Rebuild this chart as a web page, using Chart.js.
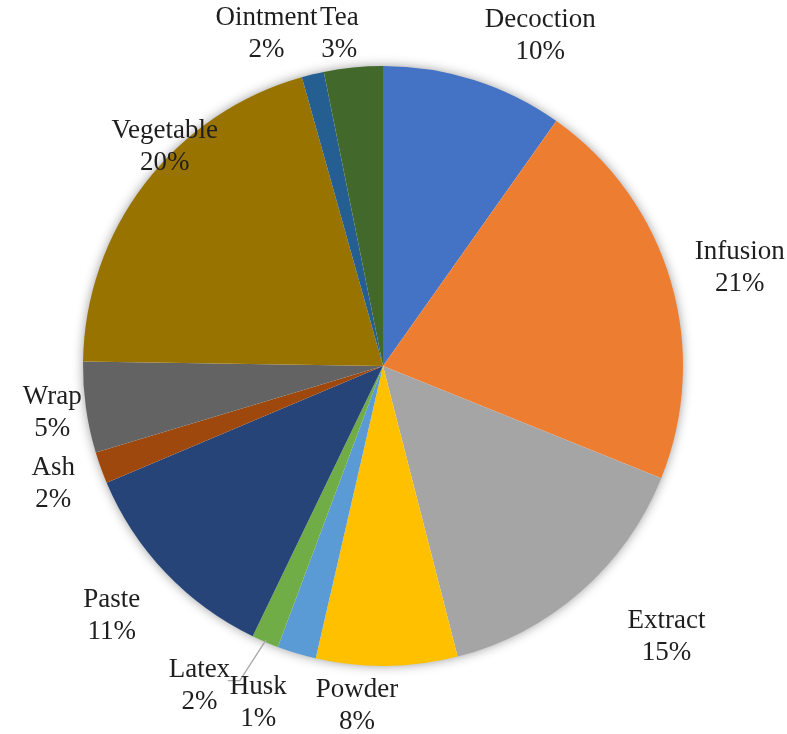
<!DOCTYPE html>
<html>
<head>
<meta charset="utf-8">
<script src="https://cdn.jsdelivr.net/npm/chart.js@4"></script>
<style>
  html, body { margin: 0; padding: 0; background: #fff; }
  canvas { display: block; }
</style>
</head>
<body>
<canvas id="pie" width="787" height="734"></canvas>
<script>
// ─────────────────────────────────────────────
//  Data
// ─────────────────────────────────────────────

const categories = ['Decoction', 'Infusion', 'Extract', 'Powder', 'Latex', 'Husk',
                    'Paste', 'Ash', 'Wrap', 'Vegetable', 'Ointment', 'Tea'];
const shares     = [9.8, 21.3, 14.9, 7.6, 2.1, 1.45, 11.49, 1.7, 4.9, 20.4, 1.2, 3.16];
const pctLabels  = ['10%', '21%', '15%', '8%', '2%', '1%', '11%', '2%', '5%', '20%', '2%', '3%'];
const colors     = ['#4472C4', '#ED7D31', '#A5A5A5', '#FFC000', '#5B9BD5', '#70AD47',
                    '#264478', '#9E480E', '#636363', '#997300', '#255E91', '#43682B'];

// label placement: px beyond the rim, degrees of nudge off the slice middle
const labelGap   = [66, 70, 92, 41, 69, 59, 69, 50, 34, 9, 52, 35];
const labelTurn  = [7.8, 1.0, -5.1, 5.1, 13.1, -2.8, 0.9, 0.2, -0.1, 7.5, -5.8, -1.8];
const LEADER_IDX = 5; // Husk label was dragged away, Excel drew a leader

// ─────────────────────────────────────────────
//  Plugins
// ─────────────────────────────────────────────

const FONT   = '27px "Liberation Serif", "Times New Roman", serif';
const LINE_H = 32;

const shadowPlugin = {
  id: 'pieShadow',
  beforeDatasetsDraw(chart) {
    const arc = chart.getDatasetMeta(0).data[0];
    if (!arc) return;
    const c = chart.ctx;
    c.save();
    c.shadowColor = 'rgba(0,0,0,0.45)';
    c.shadowBlur  = 12;
    c.fillStyle   = '#fff';
    c.beginPath();
    c.arc(arc.x, arc.y, arc.outerRadius - 1, 0, Math.PI * 2);
    c.fill();
    c.restore();
  }
};

const labelPlugin = {
  id: 'outsideLabels',
  afterDatasetsDraw(chart) {
    const c = chart.ctx;
    c.save();
    c.font = FONT;
    c.fillStyle = '#1e1e1e';
    c.textAlign = 'center';
    c.textBaseline = 'middle';

    chart.getDatasetMeta(0).data.forEach((arc, i) => {
      const mid  = (arc.startAngle + arc.endAngle) / 2;
      const ang  = mid + labelTurn[i] * Math.PI / 180;
      const dist = arc.outerRadius + labelGap[i];
      const lx   = arc.x + Math.cos(ang) * dist;
      const ly   = arc.y + Math.sin(ang) * dist;

      if (i === LEADER_IDX) {
        const w  = c.measureText(categories[i]).width;
        const sx = arc.x + Math.cos(mid) * (arc.outerRadius - 2);
        const sy = arc.y + Math.sin(mid) * (arc.outerRadius - 2);
        const ey = ly - LINE_H / 2 - 6;
        const ex = lx - w / 2 - 2;
        c.save();
        c.strokeStyle = '#a6a6a6';
        c.lineWidth = 1.3;
        c.beginPath();
        c.moveTo(sx, sy);
        c.lineTo(ex + 12, ey);
        c.lineTo(ex, ey);
        c.stroke();
        c.restore();
      }

      c.fillText(categories[i], lx, ly - LINE_H / 2);
      c.fillText(pctLabels[i],  lx, ly + LINE_H / 2);
    });
    c.restore();
  }
};

// ─────────────────────────────────────────────
//  Chart
// ─────────────────────────────────────────────

new Chart(document.getElementById('pie').getContext('2d'), {
  type: 'pie',
  data: {
    labels: categories,
    datasets: [{
      data: shares,
      backgroundColor: colors,
      borderWidth: 0,
      hoverOffset: 0,
      offset: 0,
    }]
  },
  options: {
    responsive: false,
    animation: false,
    layout: { padding: { left: 83, right: 104, top: 66, bottom: 68 } },
    plugins: {
      legend:  { display: false },
      tooltip: { enabled: false },
    }
  },
  plugins: [shadowPlugin, labelPlugin]
});
</script>
</body>
</html>
